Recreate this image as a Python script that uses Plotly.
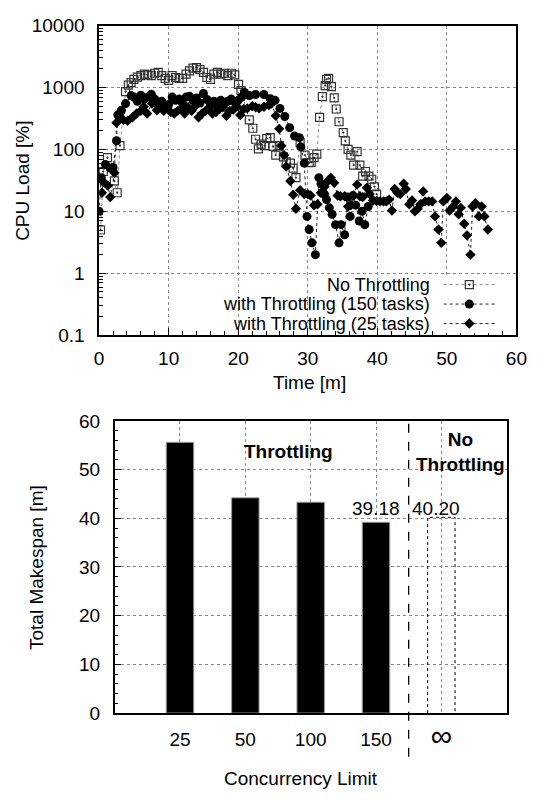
import plotly.graph_objects as go

# ---------------- data ----------------
# Top chart: CPU load over time
nt_time = [0.2, 0.6, 1.2, 2.2, 2.6, 3.0, 3.8, 4.2, 4.6, 5.0, 5.5, 6.0, 6.5, 7.0, 7.5, 8.0, 8.5, 9.0, 9.5,
           10.0, 10.5, 11.0, 11.5, 12.0, 12.5, 13.0, 13.5, 14.0, 14.5, 15.0, 15.5, 16.0, 16.5, 17.0, 17.5,
           18.0, 18.5, 19.0, 19.5, 20.05, 20.4, 21.6, 22.1, 22.5, 22.9, 23.3, 23.8, 24.1, 24.6, 25.0, 25.4,
           25.9, 26.5, 26.9, 27.5, 27.9, 28.3, 28.9, 29.6, 30.2, 30.5, 30.9, 31.3, 31.7, 32.1, 32.5, 32.7,
           33.0, 33.4, 33.8, 34.1, 34.5, 35.1, 35.4, 35.8, 36.2, 36.6, 37.1, 37.5, 37.9, 38.3, 38.8, 39.2,
           39.6, 39.9]
nt_load = [5, 44, 74, 31, 20, 115, 860, 1090, 1200, 1350, 1470, 1550, 1650, 1600, 1550, 1700, 1750, 1550, 1400,
           1300, 1550, 1450, 1400, 1400, 1650, 1850, 2050, 2100, 1950, 1750, 1450, 1350, 1650, 1750, 1650,
           1700, 1550, 1700, 1600, 1120, 890, 300, 220, 146, 102, 122, 115, 150, 155, 112, 81,
           115, 76, 63, 60, 50, 35, 130, 81, 61, 62, 74, 84, 330, 710, 1070, 1350,
           1400, 1030, 680, 450, 280, 187, 138, 100, 81, 56, 92, 56, 37, 44, 37, 33,
           25, 19]

t150_time = [0.0, 0.3, 0.9, 1.6, 2.0, 2.5, 2.7, 3.2, 3.8, 4.6, 5.0, 5.5, 6.0, 6.5, 7.0, 7.5, 8.0, 8.5, 9.0,
             9.5, 10.0, 10.5, 11.0, 11.5, 12.0, 12.5, 13.0, 13.5, 14.0, 14.5, 15.0, 15.5, 16.0, 16.5, 17.0,
             17.5, 18.0, 18.5, 19.0, 19.5, 20.0, 20.5, 20.9, 21.6, 22.5, 23.7, 24.6, 25.3, 26.0, 26.7, 27.4,
             28.1, 28.8, 29.0, 29.5, 29.9, 30.2, 30.6, 31.1, 31.6, 31.9, 32.4, 32.7, 33.1, 33.5, 34.0, 34.5,
             34.8, 35.3, 35.7, 36.1, 36.5, 36.9, 37.4, 37.8, 38.2, 38.7]
t150_load = [10, 35, 57, 50, 51, 138, 360, 430, 550, 740, 700, 600, 750, 650, 700, 780, 650, 520, 600,
             480, 530, 700, 620, 650, 550, 700, 720, 620, 680, 560, 800, 640, 520, 600, 500,
             620, 550, 600, 650, 580, 620, 700, 830, 740, 770, 770, 660, 620, 460, 340, 225,
             165, 155, 110, 60, 8.3, 5.1, 3.1, 2.0, 35, 28, 19, 15.5, 11.4, 9, 6.1, 3.1,
             6.1, 4.2, 17, 8.3, 18, 12.6, 7, 10, 6.1, 12]

t25_time = [0.0, 0.4, 0.6, 1.25, 1.6, 2.2, 2.5, 3.0, 3.5, 4.1, 4.8, 5.4, 6.0, 6.4, 6.9, 7.6, 8.3, 8.8, 9.3,
            9.8, 10.3, 10.8, 11.3, 11.8, 12.3, 12.8, 13.3, 13.8, 14.3, 14.8, 15.3, 15.8, 16.3, 16.8, 17.3,
            17.8, 18.3, 18.8, 19.3, 19.8, 20.3, 20.8, 21.3, 22.0, 22.5, 23.0, 23.7, 24.4, 24.8, 25.4, 25.9,
            26.2, 26.6, 26.9, 27.5, 27.9, 28.3, 28.9, 29.5, 30.0, 30.4, 30.9, 31.4, 31.9, 32.4, 32.8, 33.3,
            33.8, 34.3, 34.7, 35.3, 35.8, 36.2, 36.6, 37.1, 37.5, 37.9, 38.5, 38.9, 39.4, 39.9, 40.4, 40.9,
            41.3, 41.7, 42.1, 42.5, 42.9, 43.3, 43.8, 44.1, 44.6, 45.0, 45.4, 45.8, 46.2, 46.6, 46.9, 47.4,
            47.9, 48.3, 48.8, 49.2, 49.5, 50.0, 50.4, 50.9, 51.3, 51.7, 52.0, 52.5, 52.9, 53.4, 53.7, 54.1,
            54.6, 55.0, 55.4, 55.9]
t25_load = [35, 20, 30, 26, 17, 42, 270, 380, 300, 290, 330, 380, 420, 490, 380, 550, 430, 500, 420,
            470, 400, 380, 420, 450, 380, 480, 420, 500, 330, 380, 420, 470, 380, 400, 450,
            480, 350, 420, 440, 500, 360, 450, 460, 500, 480, 460, 490, 520, 550, 350, 215,
            115, 81, 53, 31, 18.5, 11, 22, 19, 19, 18, 12.5, 13, 20, 25, 30, 35,
            29, 18, 17.5, 17.5, 12, 12.7, 18, 27, 17.5, 17, 24, 19, 15, 14.7, 14.5, 14.5,
            14.5, 15.5, 10.3, 23, 20, 19, 28, 23, 13, 15, 10, 11, 13, 21, 14.5, 14.5,
            14.5, 8.3, 5.1, 3.1, 14.5, 16.5, 10.3, 12, 14.5, 9, 11.4, 6.3, 4.1, 2.0, 12, 13.5,
            8.3, 12, 8.3, 5.1]

series_names = ["No Throttling", "with Throttling (150 tasks)", "with Throttling (25 tasks)"]

# Bottom chart: total makespan per concurrency limit
limits = ["25", "50", "100", "150", "<span style='font-size:30px'>\u221e</span>"]
makespan = [55.6, 44.2, 43.3, 39.18, 40.20]

assert len(nt_time) == len(nt_load)
assert len(t150_time) == len(t150_load)
assert len(t25_time) == len(t25_load)

# ---------------- styles ----------------
FONT = "Liberation Sans, Arial, sans-serif"
FS = 19
sq_style = dict(symbol="square-open-dot", size=8, color="#333333", line=dict(width=1.2, color="#333333"))
ci_style = dict(symbol="circle", size=9, color="black")
di_style = dict(symbol="diamond", size=8, color="black")
sq_line = dict(color="#888888", width=1, dash="dot")
ci_line = dict(color="#222222", width=1, dash="dot")
di_line = dict(color="#222222", width=1, dash="dot")

fig = go.Figure()

# ---- top chart ----
fig.add_trace(go.Scatter(x=nt_time, y=nt_load, mode="lines+markers", marker=sq_style, line=sq_line,
                         xaxis="x", yaxis="y", showlegend=False, name=series_names[0]))
fig.add_trace(go.Scatter(x=t150_time, y=t150_load, mode="lines+markers", marker=ci_style, line=ci_line,
                         xaxis="x", yaxis="y", showlegend=False, name=series_names[1]))
fig.add_trace(go.Scatter(x=t25_time, y=t25_load, mode="lines+markers", marker=di_style, line=di_line,
                         xaxis="x", yaxis="y", showlegend=False, name=series_names[2]))

# ---- custom legend key (text left, sample right, like gnuplot) ----
for i, (mk, ln) in enumerate([(sq_style, sq_line), (ci_style, ci_line), (di_style, di_line)]):
    fig.add_trace(go.Scatter(x=[0, 1], y=[i, i], mode="lines", line=ln, xaxis="x3", yaxis="y3",
                             showlegend=False, hoverinfo="skip"))
    fig.add_trace(go.Scatter(x=[0.5], y=[i], mode="markers", marker=mk, xaxis="x3", yaxis="y3",
                             showlegend=False, hoverinfo="skip"))

# ---- bottom chart ----
bar_w = 0.42
xpos = list(range(len(limits)))
fig.add_trace(go.Bar(x=xpos[:4], y=makespan[:4], width=bar_w, xaxis="x2", yaxis="y2",
                     marker=dict(color="black", line=dict(color="#999999", width=1)), showlegend=False))
# dotted outline bar for "No Throttling"
xi, vi = xpos[4], makespan[4]
fig.add_trace(go.Scatter(x=[xi - bar_w / 2, xi - bar_w / 2, xi + bar_w / 2, xi + bar_w / 2],
                         y=[0, vi, vi, 0], mode="lines", line=dict(color="black", width=1, dash="dot"),
                         xaxis="x2", yaxis="y2", showlegend=False))

# minor ticks for the log axis
log_minor = [k * 10 ** e for e in range(-1, 4) for k in range(2, 10)]

axis_common = dict(showline=True, linecolor="black", linewidth=1.5, mirror=True, zeroline=False,
                   ticks="inside", ticklen=7, tickwidth=1, tickcolor="black",
                   showgrid=True, gridcolor="#888888", griddash="dot", gridwidth=1,
                   tickfont=dict(family=FONT, size=FS, color="black"))

fig.update_layout(
    width=540, height=800,
    margin=dict(l=0, r=0, t=0, b=0),
    paper_bgcolor="white", plot_bgcolor="white",
    font=dict(family=FONT, size=FS, color="black"),
    xaxis=dict(domain=[97 / 540, 527 / 540], range=[0, 60], tickvals=[0, 10, 20, 30, 40, 50, 60],
               anchor="y", ticklabelstandoff=5,
               minor=dict(tickvals=list(range(0, 61, 2)), ticks="inside", ticklen=4, tickcolor="black",
                          showgrid=False),
               **axis_common),
    yaxis=dict(domain=[1 - 334 / 800, 1 - 16 / 800], type="log", range=[-1, 4],
               tickvals=[0.1, 1, 10, 100, 1000, 10000],
               ticktext=["0.1", "1", "10", "100", "1000", "10000"], anchor="x", ticklabelstandoff=9,
               minor=dict(tickvals=log_minor, ticks="inside", ticklen=4, tickcolor="black", showgrid=False),
               **axis_common),
    xaxis2=dict(domain=[113 / 540, 517 / 540], range=[-1, 5], tickvals=xpos, ticktext=limits,
                anchor="y2", ticklabelstandoff=8,
                **{**axis_common, "ticks": ""}),
    yaxis2=dict(domain=[1 - 722 / 800, 1 - 422 / 800], range=[0, 60], tickvals=list(range(0, 61, 10)),
                anchor="x2", ticklabelstandoff=9,
                minor=dict(tickvals=list(range(0, 61, 2)), ticks="inside", ticklen=4, tickcolor="black",
                           showgrid=False),
                **axis_common),
    xaxis3=dict(domain=[452 / 540, 505 / 540], range=[0, 1], visible=False, anchor="y3"),
    yaxis3=dict(domain=[1 - 332 / 800, 1 - 272 / 800], range=[2.5, -0.5], visible=False, anchor="x3"),
)

ann = []
# axis titles
ann.append(dict(text="CPU Load [%]", x=18 / 540, y=1 - 175 / 800, xref="paper", yref="paper",
                textangle=-90, showarrow=False, xanchor="center", yanchor="middle"))
ann.append(dict(text="Time [m]", x=314 / 540, y=1 - 383 / 800, xref="paper", yref="paper",
                showarrow=False, xanchor="center", yanchor="middle"))
ann.append(dict(text="Total Makespan [m]", x=33 / 540, y=1 - 573 / 800, xref="paper", yref="paper",
                textangle=-90, showarrow=False, xanchor="center", yanchor="middle"))
ann.append(dict(text="Concurrency Limit", x=305 / 540, y=1 - 789 / 800, xref="paper", yref="paper",
                showarrow=False, xanchor="center", yanchor="middle"))
# legend texts
for i, name in enumerate(series_names):
    ann.append(dict(text=name, x=439 / 540, y=i, xref="paper", yref="y3",
                    showarrow=False, xanchor="right", yanchor="middle", borderpad=0,
                    font=dict(family=FONT, size=18, color="black")))
# bottom chart labels
ann.append(dict(text="<b>Throttling</b>", x=1.66, y=53.8, xref="x2", yref="y2", showarrow=False,
                xanchor="center", yanchor="middle"))
ann.append(dict(text="<b>No<br>Throttling</b>", x=4.3, y=53.7, xref="x2", yref="y2", showarrow=False,
                xanchor="center", yanchor="middle"))
ann.append(dict(text=f"{makespan[3]:.2f}", x=xpos[3], y=makespan[3], xref="x2", yref="y2",
                showarrow=False, xanchor="center", yanchor="bottom", yshift=1))
ann.append(dict(text=f"{makespan[4]:.2f}", x=xpos[4] - 0.08, y=makespan[3], xref="x2", yref="y2",
                showarrow=False, xanchor="center", yanchor="bottom", yshift=1))
fig.update_layout(annotations=ann)

# dashed separator between throttled and unthrottled
fig.add_shape(type="line", xref="x2", yref="paper", x0=3.5, x1=3.5, y0=1 - 767 / 800, y1=1 - 422 / 800,
              line=dict(color="black", width=1.3, dash="dash"))

fig.write_html("out.html")
